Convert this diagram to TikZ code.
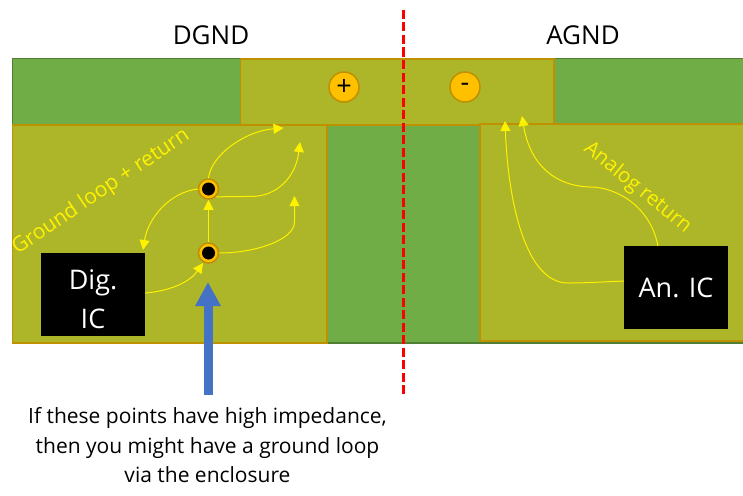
\documentclass[tikz,border=0pt]{standalone}
\usepackage{fontspec}
\setmainfont{Open Sans}
\usetikzlibrary{arrows.meta}
\definecolor{pcbgreen}{HTML}{70AD47}
\definecolor{pcbedge}{HTML}{507E32}
\definecolor{copper}{HTML}{ADB529}
\definecolor{copperedge}{HTML}{BF9000}
\definecolor{viafill}{HTML}{FFC000}
\definecolor{arrowblue}{HTML}{4472C4}
\tikzset{
  copperbox/.style={draw=copperedge,fill=copper,line width=1.5pt},
  viadot/.style={circle,draw=copperedge,fill=viafill,line width=1.5pt,minimum size=20pt,inner sep=0pt},
  viahole/.style={circle,fill=black,minimum size=13pt,inner sep=0pt},
  terminal/.style={circle,draw=copperedge,fill=viafill,line width=1.5pt,minimum size=30pt,inner sep=0pt,font=\fontsize{27}{27}\selectfont},
  icbox/.style={fill=black,text=white,align=center,inner sep=0pt,font=\fontsize{27}{39}\selectfont},
  flow/.style={draw=yellow,line width=1pt,-{Triangle[length=10pt,width=10pt,fill=yellow]}},
  flowlabel/.style={text=yellow,font=\fontsize{21}{24}\selectfont,inner sep=0pt},
  heading/.style={font=\fontsize{26}{30}\selectfont,inner sep=0pt},
  note/.style={font=\fontsize{21}{29.5}\selectfont,align=center,inner sep=0pt},
}
\begin{document}
\begin{tikzpicture}[x=1pt,y=-1pt]
\useasboundingbox (0,0) rectangle (743,495);
\fill[white] (0,0) rectangle (743,495);
\fill[pcbgreen,draw=pcbedge,line width=1.5pt] (12.5,58.5) rectangle (745,343);
\draw[copperbox] (240.5,59) rectangle (554,125);
\draw[copperbox] (12.5,125) rectangle (327,343);
\draw[copperbox] (480,124) rectangle (746,341);
\node[heading] (dgnd) at (211,35) {DGND};
\node[heading] (agnd) at (583,35) {AGND};
\node[terminal] (plus) at (344,87) {+};
\node[terminal] (minus) at (465,87) {-};
\node[viadot] (viaA) at (208.5,189) {};
\node[viahole] at (viaA) {};
\node[viadot] (viaB) at (208.5,253) {};
\node[viahole] at (viaB) {};
\node[icbox,minimum width=104pt,minimum height=83pt] (dig) at (93,294.5) {\rule{0pt}{30pt}Dig.\\IC};
\node[icbox,minimum width=104pt,minimum height=83pt] (an) at (676,287.5) {An. IC};
\node[flowlabel,rotate=34] (lblG) at (101,192) {Ground loop + return};
\node[flowlabel,rotate=-39] (lblA) at (637.5,188) {\fontsize{20.5}{24}\selectfont Analog return};
\coordinate (endA) at (283.5,128);
\coordinate (endB) at (300,142);
\coordinate (endC) at (294.5,196);
\coordinate (endD) at (505,121);
\coordinate (endE) at (522,116);
\coordinate (endF) at (143,250);
\coordinate (endG) at (203,263);
\draw[flow] (dig.east |- 0,293) .. controls (170,291) and (190,282) .. (endG);
\draw[flow] (viaB.north) -- (viaA.south);
\draw[flow] (viaB.east) .. controls (255,253) and (294.5,240) .. (294.5,222) -- (endC);
\draw[flow] (viaA.east) ++(-3,8) .. controls (235,196) and (250,197) .. (258,196) .. controls (280,193) and (296,175) .. (endB);
\draw[flow] (viaA.north) .. controls (211,155) and (245,131) .. (endA);
\draw[flow] (viaA.west) .. controls (170,192) and (148,218) .. (endF);
\draw[flow] (an.west |- 0,281) .. controls (600,282) and (585,283) .. (568,283) .. controls (525,283) and (508,200) .. (endD);
\draw[flow] (658,246) .. controls (650,205) and (615,187) .. (590,187) .. controls (555,186) and (530,165) .. (endE);
\draw[red,line width=2.5pt,dash pattern=on 9pt off 3.5pt] (403.5,10) -- (403.5,395);
\coordinate (blueStart) at (208,395);
\coordinate (blueTip) at (208,282);
\draw[arrowblue,line width=9pt,-{Triangle[length=24pt,width=24pt]}] (blueStart) -- (blueTip);
\node[note] (noteT) at (207.5,445.5) {If these points have high impedance,\\then you might have a ground loop\\via the enclosure};
\end{tikzpicture}
\end{document}
